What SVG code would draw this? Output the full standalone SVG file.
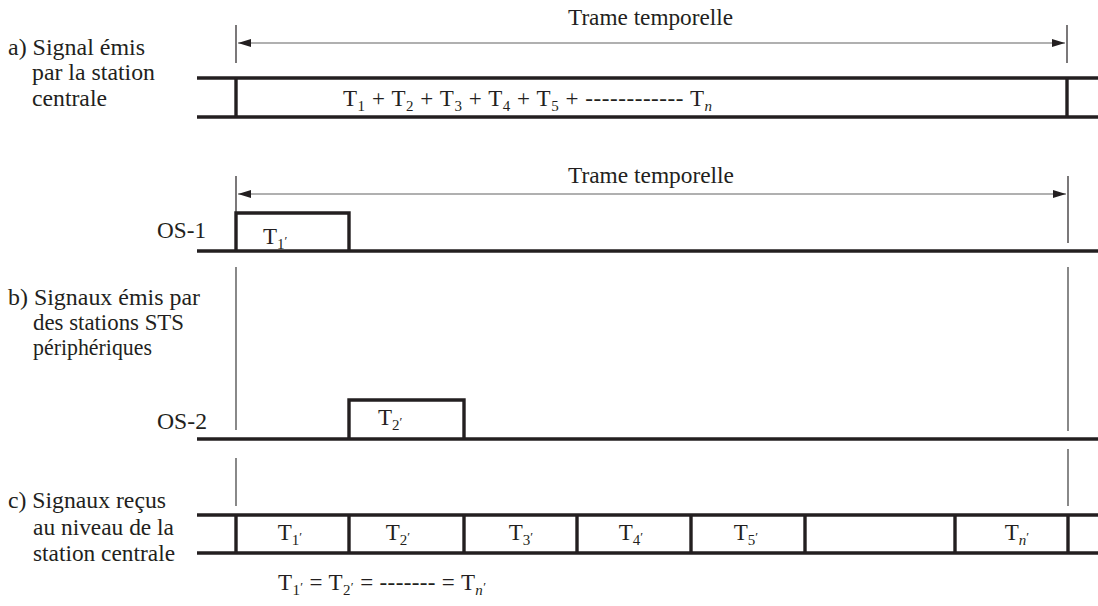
<svg xmlns="http://www.w3.org/2000/svg" width="1098" height="606" viewBox="0 0 1098 606">
  <defs>
    <style>
      .txt { font-family: "Liberation Serif", "Times New Roman", "DejaVu Serif", serif; font-size: 23px; fill: #231f20; }
      .sub { font-size: 15px; }
      .pr { font-size: 13px; }
      .it { font-style: italic; }
      .sig { fill: none; stroke: #231f20; stroke-width: 3.4; stroke-linecap: butt; stroke-linejoin: miter; }
      .tick { stroke: #231f20; stroke-width: 1.2; }
      .guide { stroke: #3a3a3a; stroke-width: 1.2; }
      .dim { stroke: #b0b0b0; stroke-width: 2; marker-start: url(#arrow); marker-end: url(#arrow); }
    </style>
    <marker id="arrow" markerUnits="userSpaceOnUse" markerWidth="14" markerHeight="9" refX="13" refY="4.5" orient="auto-start-reverse">
      <path d="M0,0.5 L13,4.5 L0,8.5 Z" fill="#231f20"/>
    </marker>
  </defs>

  <g font-family="Liberation Serif, Times New Roman, serif">
  <!-- a) frame sent by the central station -->
  <g id="frame-a">
    <line class="tick" x1="236" y1="25" x2="236" y2="63"/>
    <line class="tick" x1="1067" y1="25" x2="1067" y2="63"/>
    <text class="txt" x="568" y="25" textLength="165" lengthAdjust="spacingAndGlyphs">Trame temporelle</text>
    <line class="sig" x1="197" y1="78" x2="1098" y2="78"/>
    <line class="sig" x1="197" y1="117" x2="1098" y2="117"/>
    <line class="sig" x1="236" y1="78" x2="236" y2="117"/>
    <line class="sig" x1="1067" y1="78" x2="1067" y2="117"/>
    <text class="txt" x="343" y="106" textLength="369" lengthAdjust="spacing">T<tspan class="sub" dy="5">1</tspan><tspan dy="-5"> + T</tspan><tspan class="sub" dy="5">2</tspan><tspan dy="-5"> + T</tspan><tspan class="sub" dy="5">3</tspan><tspan dy="-5"> + T</tspan><tspan class="sub" dy="5">4</tspan><tspan dy="-5"> + T</tspan><tspan class="sub" dy="5">5</tspan><tspan dy="-5"> + ------------ T</tspan><tspan class="sub it" dy="5">n</tspan></text>
  </g>

  <g id="label-a">
    <text class="txt" x="8" y="55" textLength="137" lengthAdjust="spacingAndGlyphs">a) Signal émis</text>
    <text class="txt" x="32" y="80" textLength="123" lengthAdjust="spacingAndGlyphs">par la station</text>
    <text class="txt" x="32" y="106" textLength="75" lengthAdjust="spacingAndGlyphs">centrale</text>
  </g>

  <!-- b) bursts sent by the peripheral stations -->
  <g id="frame-b">
    <line class="tick" x1="236" y1="176" x2="236" y2="213"/>
    <line class="tick" x1="1068" y1="176" x2="1068" y2="243"/>
    <text class="txt" x="568" y="183" textLength="166" lengthAdjust="spacingAndGlyphs">Trame temporelle</text>
  </g>

  <g id="os-1">
    <text class="txt" x="157" y="238" textLength="49" lengthAdjust="spacingAndGlyphs">OS-1</text>
    <line class="sig" x1="197" y1="251" x2="1098" y2="251"/>
    <path class="sig" d="M236,251 V213 H349 V251"/>
    <text class="txt" x="263" y="244">T<tspan class="sub" dy="5">1</tspan><tspan class="pr" dy="-4">′</tspan></text>
  </g>

  <g id="label-b">
    <text class="txt" x="8" y="305" textLength="192" lengthAdjust="spacingAndGlyphs">b) Signaux émis par</text>
    <text class="txt" x="33" y="330" textLength="151" lengthAdjust="spacingAndGlyphs">des stations STS</text>
    <text class="txt" x="33" y="355" textLength="119" lengthAdjust="spacingAndGlyphs">périphériques</text>
  </g>

  <g id="os-2">
    <text class="txt" x="157" y="429" textLength="50" lengthAdjust="spacingAndGlyphs">OS-2</text>
    <line class="sig" x1="197" y1="439" x2="1098" y2="439"/>
    <path class="sig" d="M349,439 V400 H464 V439"/>
    <text class="txt" x="378" y="425">T<tspan class="sub" dy="5">2</tspan><tspan class="pr" dy="-4">′</tspan></text>
  </g>

  <!-- c) frame received at the central station -->
  <g id="frame-c">
    <line class="sig" x1="197" y1="515" x2="1098" y2="515"/>
    <line class="sig" x1="197" y1="553" x2="1098" y2="553"/>
    <line class="sig" x1="236" y1="515" x2="236" y2="553"/>
    <line class="sig" x1="349" y1="515" x2="349" y2="553"/>
    <line class="sig" x1="464" y1="515" x2="464" y2="553"/>
    <line class="sig" x1="577" y1="515" x2="577" y2="553"/>
    <line class="sig" x1="691" y1="515" x2="691" y2="553"/>
    <line class="sig" x1="805" y1="515" x2="805" y2="553"/>
    <line class="sig" x1="955" y1="515" x2="955" y2="553"/>
    <line class="sig" x1="1068" y1="515" x2="1068" y2="553"/>
    <g text-anchor="middle">
      <text class="txt" x="290" y="540">T<tspan class="sub" dy="5">1</tspan><tspan class="pr" dy="-4">′</tspan></text>
      <text class="txt" x="398" y="540">T<tspan class="sub" dy="5">2</tspan><tspan class="pr" dy="-4">′</tspan></text>
      <text class="txt" x="521" y="540">T<tspan class="sub" dy="5">3</tspan><tspan class="pr" dy="-4">′</tspan></text>
      <text class="txt" x="631" y="540">T<tspan class="sub" dy="5">4</tspan><tspan class="pr" dy="-4">′</tspan></text>
      <text class="txt" x="746" y="540">T<tspan class="sub" dy="5">5</tspan><tspan class="pr" dy="-4">′</tspan></text>
      <text class="txt" x="1017" y="540">T<tspan class="sub it" dy="5">n</tspan><tspan class="pr" dy="-4">′</tspan></text>
    </g>
    <text class="txt" x="278" y="590" textLength="208" lengthAdjust="spacing">T<tspan class="sub" dy="5">1</tspan><tspan class="pr" dy="-4">′</tspan><tspan dy="-1"> = T</tspan><tspan class="sub" dy="5">2</tspan><tspan class="pr" dy="-4">′</tspan><tspan dy="-1"> = ------- = T</tspan><tspan class="sub it" dy="5">n</tspan><tspan class="pr" dy="-4">′</tspan></text>
  </g>

  <g id="label-c">
    <text class="txt" x="8" y="508" textLength="158" lengthAdjust="spacingAndGlyphs">c) Signaux reçus</text>
    <text class="txt" x="33" y="535" textLength="141" lengthAdjust="spacingAndGlyphs">au niveau de la</text>
    <text class="txt" x="33" y="561" textLength="142" lengthAdjust="spacingAndGlyphs">station centrale</text>
  </g>
  </g>

  <!-- time-frame dimension arrows and guide lines -->
  <g id="connectors">
    <line class="dim" x1="238" y1="43" x2="1065" y2="43"/>
    <line class="dim" x1="238" y1="194" x2="1066" y2="194"/>
    <line class="guide" x1="236" y1="267" x2="236" y2="430"/>
    <line class="guide" x1="1068" y1="267" x2="1068" y2="431"/>
    <line class="guide" x1="236" y1="458" x2="236" y2="506"/>
    <line class="guide" x1="1068" y1="449" x2="1068" y2="506"/>
  </g>
</svg>
